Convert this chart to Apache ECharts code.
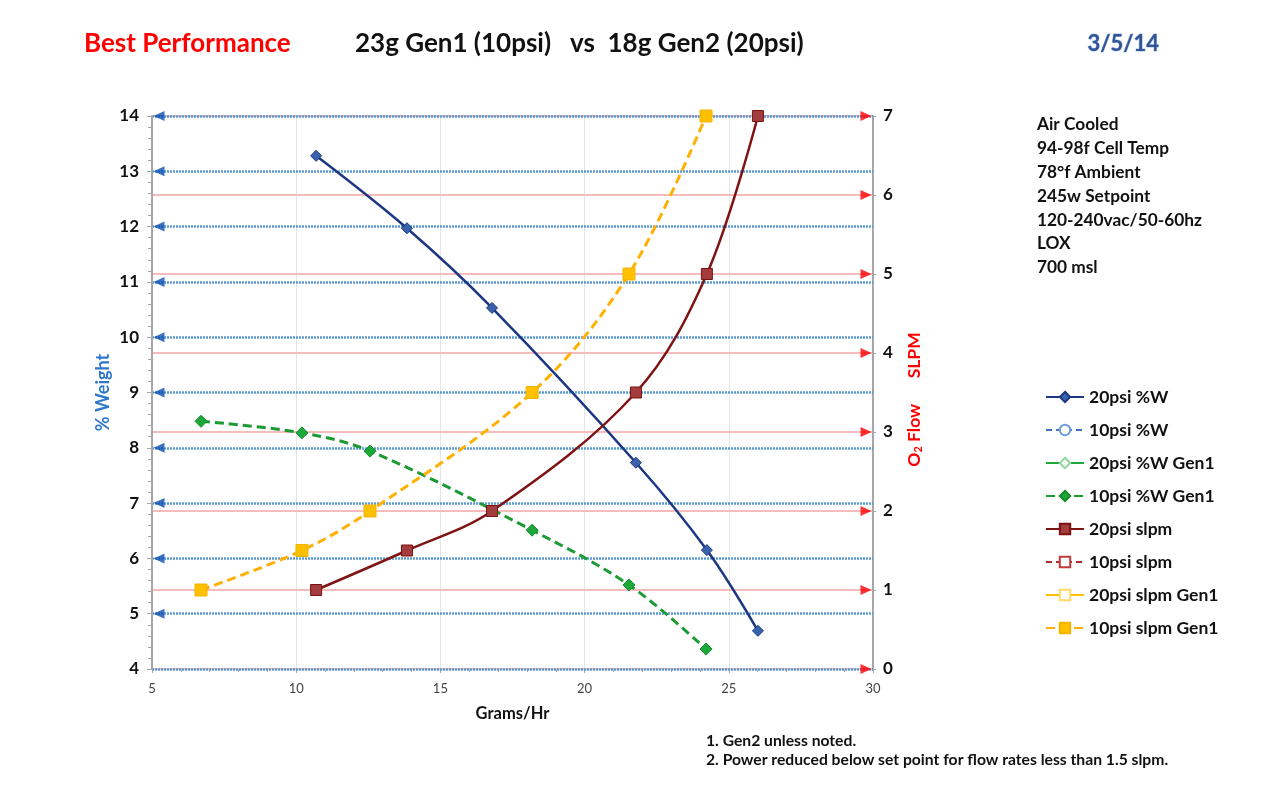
<!DOCTYPE html>
<html>
<head>
<meta charset="utf-8">
<script src="https://cdn.jsdelivr.net/npm/echarts@6/dist/echarts.min.js"></script>
<style>
html,body{margin:0;padding:0;background:#fff;}
#chart{width:1276px;height:795px;}
</style>
</head>
<body>
<div id="chart"></div>
<script>
// ---- data ----
const gen2X = [10.69, 13.84, 16.79, 21.78, 24.24, 26.01];
const gen2W = [13.28, 11.97, 10.53, 7.73, 6.15, 4.69];
const gen2Slpm = [1, 1.5, 2, 3.5, 5, 7];
const gen1X = [6.70, 10.20, 12.56, 18.18, 21.54, 24.21];
const gen1W = [8.48, 8.27, 7.94, 6.51, 5.52, 4.36];
const gen1Slpm = [1, 1.5, 2, 3.5, 5, 7];
const leftTicks = [5, 6, 7, 8, 9, 10, 11, 12, 13, 14];
const rightTicks = [0, 1, 2, 3, 4, 5, 6, 7];
const legendNames = ['20psi %W', '10psi %W', '20psi %W Gen1', '10psi %W Gen1',
  '20psi slpm', '10psi slpm', '20psi slpm Gen1', '10psi slpm Gen1'];
const notesRight = ['Air Cooled', '94-98f Cell Temp', '78°f Ambient', '245w Setpoint',
  '120-240vac/50-60hz', 'LOX', '700 msl'];
const footNotes = ['1. Gen2 unless noted.', '2. Power reduced below set point for flow rates less than 1.5 slpm.'];

const X_MIN = 5, X_MAX = 30;
const FONT = 'Lato, "Open Sans", sans-serif';

function pairs(xs, ys) { return xs.map((x, i) => [x, ys[i]]); }

const chart = echarts.init(document.getElementById('chart'));

const option = {
  backgroundColor: '#fff',
  animation: false,
  textStyle: { fontFamily: FONT },
  grid: { left: 152, right: 403, top: 116, bottom: 126, containLabel: false },
  graphic: [
    { type: 'text', left: 84, top: 31, style: { text: 'Best Performance', fill: '#ff0000', font: 'bold 26px ' + FONT } },
    { type: 'text', left: 355, top: 31, style: { text: '23g Gen1 (10psi)   vs  18g Gen2 (20psi)', fill: '#111', font: 'bold 26px ' + FONT } },
    { type: 'text', left: 1087, top: 32, style: { text: '3/5/14', fill: '#2f5597', stroke: '#a9bfe3', lineWidth: 1, font: 'bold 22px ' + FONT } },
    { type: 'text', left: 1037, top: 113, style: { text: notesRight.join('\n'), fill: '#111', font: 'bold 17.3px ' + FONT, lineHeight: 23.8 } },
    { type: 'text', left: 706, top: 731, style: { text: footNotes.join('\n'), fill: '#111', font: 'bold 15.7px ' + FONT, lineHeight: 19 } }
  ],
  legend: {
    orient: 'vertical',
    left: 1040,
    top: 383,
    itemWidth: 38,
    itemHeight: 13,
    itemGap: 15,
    data: legendNames,
    textStyle: { fontFamily: FONT, fontWeight: 'bold', fontSize: 17.5, color: '#111' }
  },
  xAxis: {
    type: 'value', min: X_MIN, max: X_MAX, interval: 5,
    name: 'Grams/Hr', nameLocation: 'middle', nameGap: 36,
    nameTextStyle: { fontFamily: FONT, fontWeight: 'bold', fontSize: 16.5, color: '#111' },
    axisLine: { show: true, lineStyle: { color: '#a6a6a6', width: 2 } },
    axisTick: { show: true, length: 4, lineStyle: { color: '#a6a6a6' } },
    minorTick: { show: true, splitNumber: 5, length: 3, lineStyle: { color: '#a6a6a6' } },
    axisLabel: { color: '#444', fontSize: 13, margin: 13, fontFamily: FONT },
    splitLine: { show: true, lineStyle: { color: '#e6e6e6', width: 1 } }
  },
  yAxis: [
    {
      type: 'value', min: 4, max: 14, interval: 1, position: 'left', z: 2,
      name: '% Weight', nameLocation: 'middle', nameGap: 40, nameRotate: 90, nameMoveOverlap: false,
      nameTextStyle: { fontFamily: FONT, fontWeight: 'bold', fontSize: 18, color: '#2f78cc' },
      axisLine: { show: true, lineStyle: { color: '#a6a6a6', width: 2 } },
      axisTick: { show: true, length: 5, lineStyle: { color: '#a6a6a6' } },
      minorTick: { show: true, splitNumber: 5, length: 4, lineStyle: { color: '#a6a6a6' } },
      axisLabel: { color: '#111', fontWeight: 'bold', fontSize: 17, margin: 13, fontFamily: FONT },
      splitLine: { show: true, lineStyle: { color: '#5b9bd5', width: 2.5, type: [2, 1] } }
    },
    {
      type: 'value', min: 0, max: 7, interval: 1, position: 'right', z: 1,
      name: '{a|O}{s|2}{a| Flow      SLPM}', nameLocation: 'middle', nameGap: 31, nameRotate: 90,
      nameTextStyle: {
        padding: [0, 14, 0, 0],
        rich: {
          a: { fontFamily: FONT, fontWeight: 'bold', fontSize: 17.5, color: '#ff0000' },
          s: { fontFamily: FONT, fontWeight: 'bold', fontSize: 11, color: '#ff0000', padding: [9, 0, 0, 0] }
        }
      },
      axisLine: { show: true, lineStyle: { color: '#a6a6a6', width: 2 } },
      axisTick: { show: true, length: 3, lineStyle: { color: '#a6a6a6' } },
      axisLabel: { color: '#111', fontWeight: 'bold', fontSize: 17, margin: 10, fontFamily: FONT },
      splitLine: { show: true, lineStyle: { color: '#f6bcbc', width: 2 } }
    }
  ],
  series: [
    {
      name: '20psi %W', type: 'line', yAxisIndex: 0, smooth: 0.35,
      data: pairs(gen2X, gen2W),
      symbol: 'diamond', symbolSize: 11,
      lineStyle: { color: '#1b3784', width: 2.5 },
      itemStyle: { color: '#3a62aa', borderColor: '#1b3784', borderWidth: 1 },
      z: 5
    },
    {
      name: '10psi %W', type: 'line', yAxisIndex: 0, data: [],
      symbol: 'emptyCircle', symbolSize: 8,
      lineStyle: { color: '#3f72c6', width: 2, type: [6, 4] },
      itemStyle: { color: '#6f9de0', borderColor: '#6f9de0' }
    },
    {
      name: '20psi %W Gen1', type: 'line', yAxisIndex: 0, data: [],
      symbol: 'emptyDiamond', symbolSize: 9,
      lineStyle: { color: '#21a83b', width: 2.5 },
      itemStyle: { color: '#8fd89c', borderColor: '#8fd89c' }
    },
    {
      name: '10psi %W Gen1', type: 'line', yAxisIndex: 0, smooth: 0.35,
      data: pairs(gen1X, gen1W),
      symbol: 'diamond', symbolSize: 12,
      lineStyle: { color: '#1c9a34', width: 3, type: [9, 5] },
      itemStyle: { color: '#1da83a', borderColor: '#158a2c', borderWidth: 1 },
      z: 5
    },
    {
      name: '20psi slpm', type: 'line', yAxisIndex: 1, smooth: 0.35,
      data: pairs(gen2X, gen2Slpm),
      symbol: 'rect', symbolSize: 11,
      lineStyle: { color: '#7f1414', width: 2.5 },
      itemStyle: { color: '#a33c3c', borderColor: '#7a1212', borderWidth: 1 },
      z: 5
    },
    {
      name: '10psi slpm', type: 'line', yAxisIndex: 1, data: [],
      symbol: 'emptyRect', symbolSize: 8,
      lineStyle: { color: '#b02a2a', width: 2, type: [6, 4] },
      itemStyle: { color: '#c23b3b', borderColor: '#c23b3b' }
    },
    {
      name: '20psi slpm Gen1', type: 'line', yAxisIndex: 1, data: [],
      symbol: 'emptyRect', symbolSize: 10,
      lineStyle: { color: '#ffc000', width: 2.5 },
      itemStyle: { color: '#ffd966', borderColor: '#ffd966' }
    },
    {
      name: '10psi slpm Gen1', type: 'line', yAxisIndex: 1, smooth: 0.35,
      data: pairs(gen1X, gen1Slpm),
      symbol: 'rect', symbolSize: 12,
      lineStyle: { color: '#ffb000', width: 3, type: [9, 5] },
      itemStyle: { color: '#ffc000', borderColor: '#f2b400', borderWidth: 1 },
      z: 5
    },
    {
      name: 'leftArrows', type: 'scatter', yAxisIndex: 0, silent: true,
      data: leftTicks.map(v => [X_MIN, v]),
      symbol: 'triangle', symbolSize: [10, 11], symbolRotate: 90, symbolOffset: [7, 0],
      itemStyle: { color: '#0b4fb0' }, z: 6
    },
    {
      name: 'rightArrows', type: 'scatter', yAxisIndex: 1, silent: true,
      data: rightTicks.map(v => [X_MAX, v]),
      symbol: 'triangle', symbolSize: [10, 11], symbolRotate: -90, symbolOffset: [-7, 0],
      itemStyle: { color: '#ff0000' }, z: 6
    }
  ]
};
chart.setOption(option);
</script>
</body>
</html>
